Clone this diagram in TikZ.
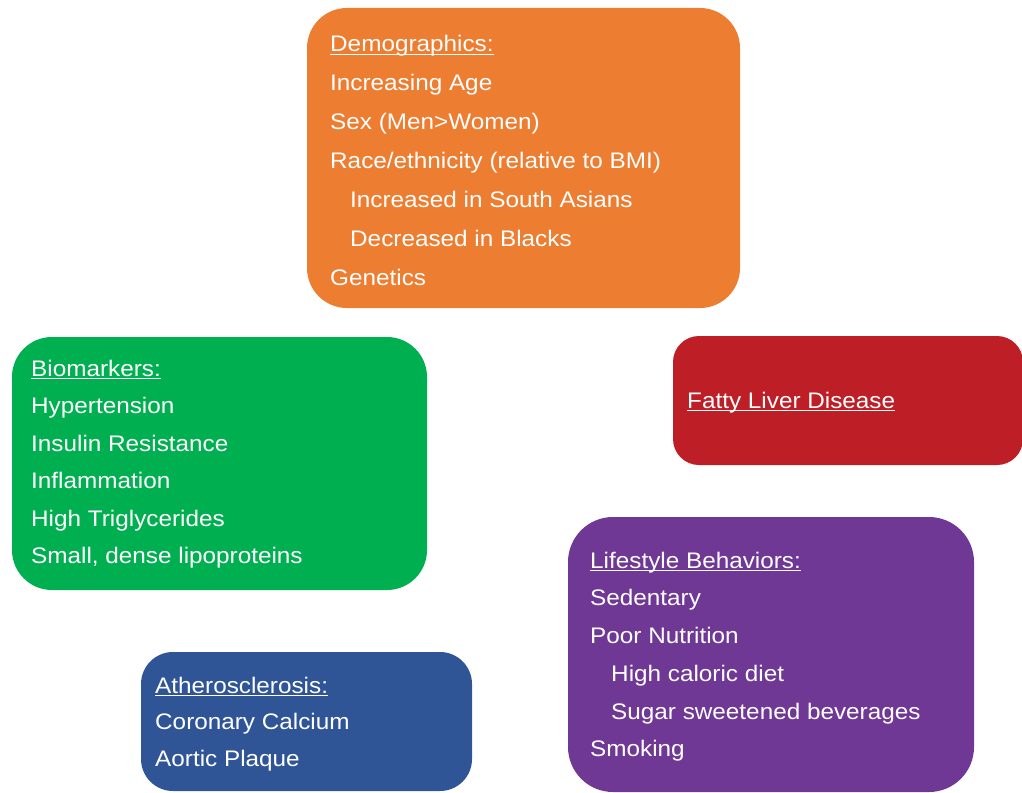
\documentclass[tikz,border=0pt]{standalone}
\usepackage{fontspec}
\setmainfont[FakeStretch=1.08]{Liberation Sans}
\definecolor{cdemo}{HTML}{ED7D31}
\definecolor{cbio}{HTML}{00B050}
\definecolor{cliver}{HTML}{BE1E26}
\definecolor{clife}{HTML}{6F3894}
\definecolor{cath}{HTML}{2F5597}
\newcommand\ulin[1]{\setbox0\hbox{#1}\rlap{\rule[-3.2pt]{\wd0}{1.3pt}}\box0}
\begin{document}
\begin{tikzpicture}[x=1pt,y=-1pt,
  box/.style={draw=none,inner sep=0pt,rounded corners=#1},
  txt/.style={anchor=base west,inner sep=0pt,text=white,font=\fontsize{22.5}{27}\selectfont}]
\useasboundingbox (0,0) rectangle (1022,792);
% boxes
\node[box=40pt,fill=cdemo,minimum width=433pt,minimum height=300pt] (demo) at (523.5,158) {};
\node[box=40pt,fill=cbio,minimum width=415pt,minimum height=253pt] (bio) at (219.5,463.5) {};
\node[box=26pt,fill=cliver,minimum width=350pt,minimum height=129pt] (liver) at (848,400.5) {};
\node[box=45pt,fill=clife,minimum width=406pt,minimum height=275pt] (life) at (771,654.5) {};
\node[box=32pt,fill=cath,minimum width=331pt,minimum height=139pt] (ath) at (306.5,721.5) {};
% demographics
\node[txt] (d0) at (330,52) {\ulin{Demographics:}};
\node[txt] (d1) at (330,90) {Increasing Age};
\node[txt] (d2) at (330,129) {Sex (Men>Women)};
\node[txt] (d3) at (330,168) {Race/ethnicity (relative to BMI)};
\node[txt] (d4) at (350,207) {Increased in South Asians};
\node[txt] (d5) at (350,246) {Decreased in Blacks};
\node[txt] (d6) at (330,285) {Genetics};
% biomarkers
\node[txt] (b0) at (31,376) {\ulin{Biomarkers:}};
\node[txt] (b1) at (31,413.5) {Hypertension};
\node[txt] (b2) at (31,451) {Insulin Resistance};
\node[txt] (b3) at (31,488.5) {Inflammation};
\node[txt] (b4) at (31,526) {High Triglycerides};
\node[txt] (b5) at (31,563.5) {Small, dense lipoproteins};
% liver
\node[txt] (l0) at (687,408) {\ulin{Fatty Liver Disease}};
% lifestyle
\node[txt] (s0) at (590,568) {\ulin{Lifestyle Behaviors:}};
\node[txt] (s1) at (590,605.5) {Sedentary};
\node[txt] (s2) at (590,643) {Poor Nutrition};
\node[txt] (s3) at (611,681) {High caloric diet};
\node[txt] (s4) at (611,719) {Sugar sweetened beverages};
\node[txt] (s5) at (590,756) {Smoking};
% atherosclerosis
\node[txt] (a0) at (155,693) {\ulin{Atherosclerosis:}};
\node[txt] (a1) at (155,729.5) {Coronary Calcium};
\node[txt] (a2) at (155,766) {Aortic Plaque};
\end{tikzpicture}
\end{document}
